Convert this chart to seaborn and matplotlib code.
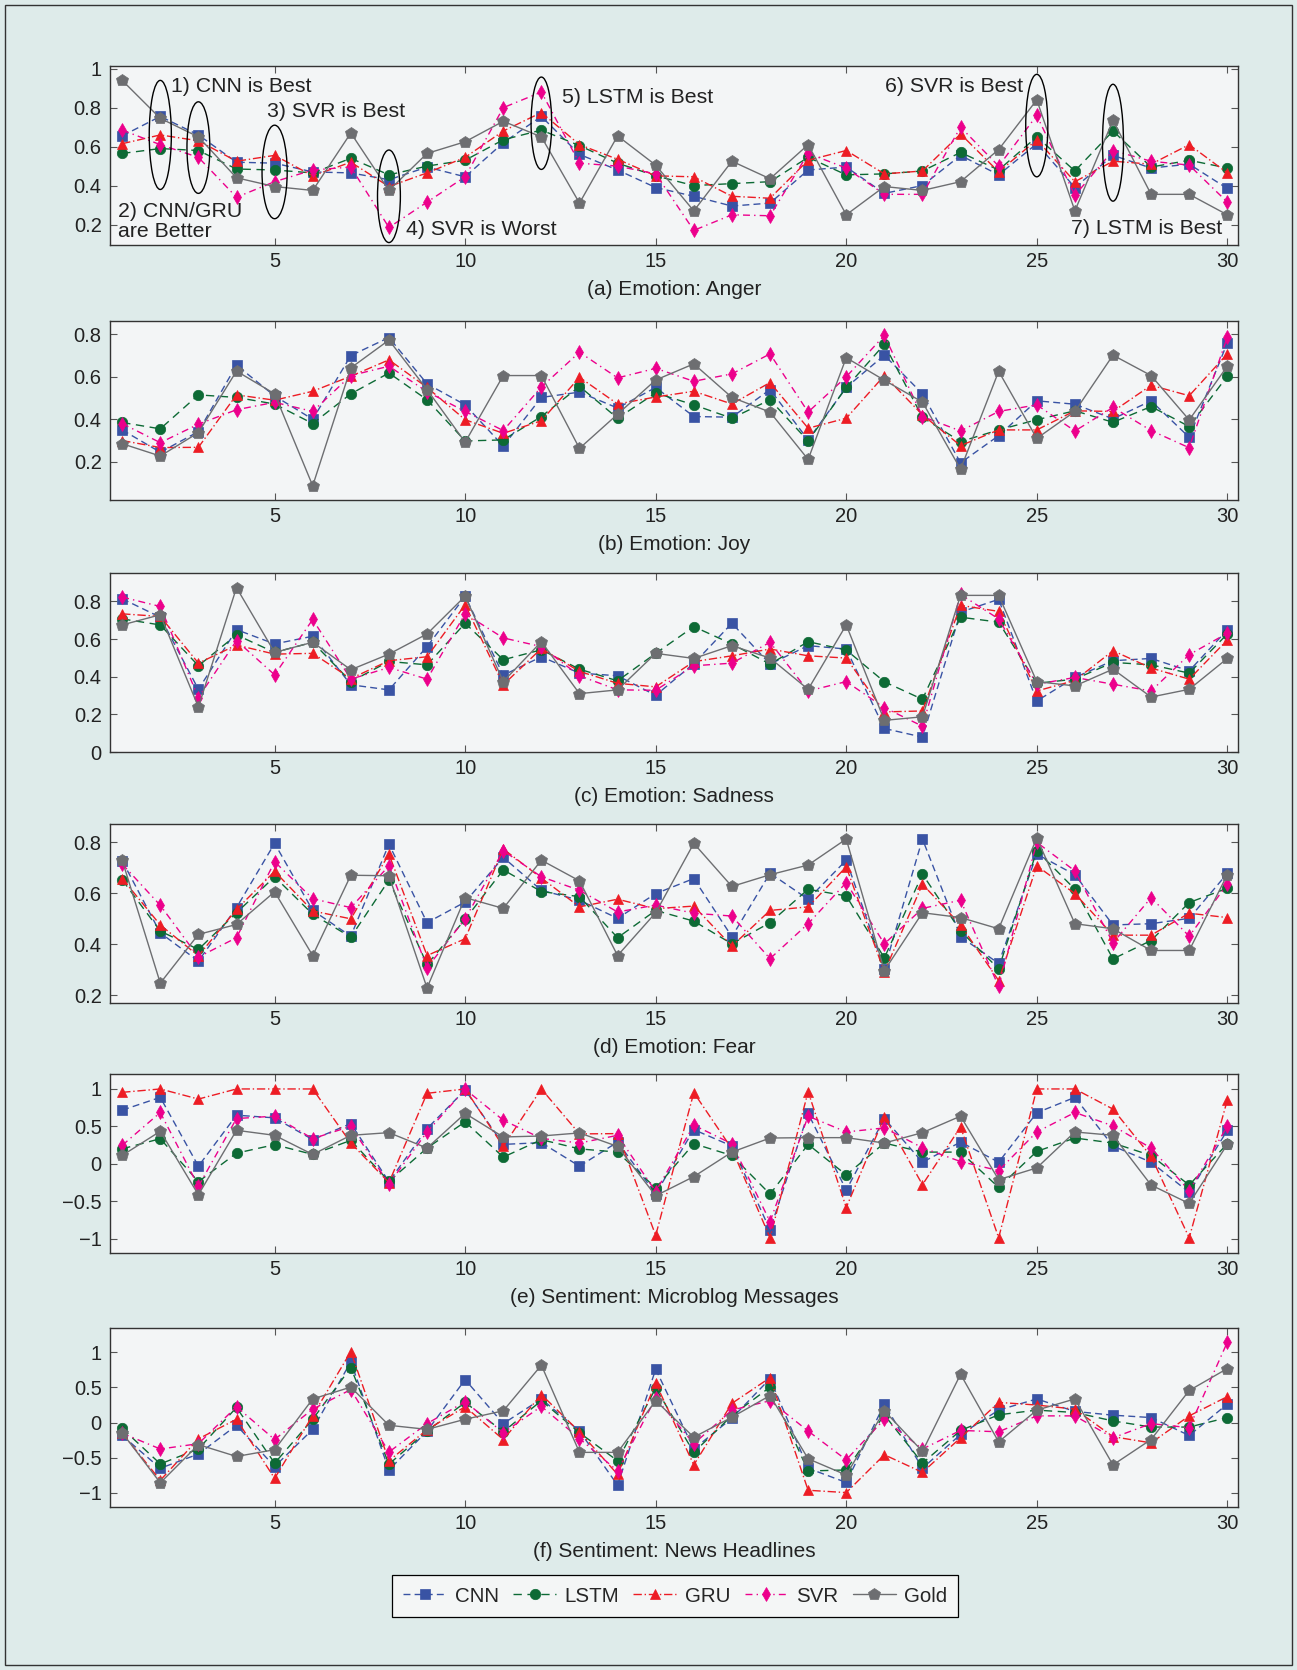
import numpy as np
import pandas as pd
import matplotlib
matplotlib.use('Agg')
import matplotlib.pyplot as plt
from matplotlib.patches import Ellipse, Rectangle
from matplotlib.ticker import FuncFormatter
import seaborn as sns

# x positions of the samples
idx = list(range(1, 31))

# (a) Emotion: Anger
a_cnn = [0.655,0.755,0.66,0.52,0.515,0.47,0.465,0.43,0.495,0.445,0.62,0.755,0.56,0.48,0.39,0.345,0.295,0.31,0.48,0.495,0.36,0.40,0.555,0.455,0.615,0.39,0.555,0.49,0.51,0.385]
a_lstm = [0.565,0.59,0.58,0.485,0.48,0.465,0.54,0.455,0.5,0.53,0.635,0.685,0.605,0.515,0.45,0.40,0.41,0.42,0.545,0.455,0.46,0.475,0.57,0.48,0.65,0.475,0.68,0.495,0.53,0.49]
a_gru = [0.615,0.66,0.63,0.525,0.555,0.45,0.52,0.395,0.465,0.545,0.68,0.775,0.61,0.535,0.45,0.445,0.345,0.335,0.53,0.58,0.46,0.475,0.665,0.47,0.635,0.42,0.525,0.51,0.61,0.465]
a_svr = [0.685,0.61,0.545,0.34,0.42,0.48,0.495,0.185,0.315,0.445,0.80,0.88,0.515,0.50,0.46,0.17,0.25,0.245,0.565,0.49,0.355,0.355,0.70,0.50,0.76,0.35,0.58,0.525,0.505,0.315]
a_gold = [0.94,0.745,0.65,0.44,0.395,0.375,0.67,0.375,0.565,0.625,0.73,0.65,0.31,0.655,0.505,0.27,0.525,0.435,0.61,0.25,0.395,0.375,0.42,0.585,0.84,0.27,0.735,0.355,0.355,0.25]

# (b) Emotion: Joy
b_cnn = [0.35,0.245,0.342,0.655,0.51,0.40,0.70,0.785,0.567,0.468,0.274,0.503,0.528,0.453,0.55,0.413,0.41,0.54,0.303,0.55,0.702,0.52,0.195,0.323,0.487,0.471,0.402,0.487,0.315,0.76]
b_lstm = [0.385,0.355,0.515,0.503,0.472,0.38,0.52,0.618,0.492,0.298,0.303,0.413,0.555,0.405,0.524,0.468,0.405,0.492,0.298,0.55,0.753,0.409,0.295,0.35,0.398,0.44,0.386,0.46,0.366,0.603]
b_gru = [0.30,0.267,0.268,0.515,0.49,0.532,0.603,0.68,0.55,0.398,0.334,0.393,0.598,0.472,0.505,0.532,0.472,0.573,0.358,0.405,0.606,0.421,0.276,0.35,0.35,0.44,0.437,0.56,0.511,0.708]
b_svr = [0.38,0.29,0.377,0.445,0.48,0.437,0.606,0.65,0.53,0.437,0.347,0.552,0.716,0.595,0.64,0.579,0.614,0.708,0.434,0.60,0.795,0.413,0.345,0.437,0.468,0.345,0.456,0.347,0.266,0.787]
b_gold = [0.285,0.227,0.337,0.627,0.52,0.087,0.642,0.773,0.54,0.292,0.606,0.606,0.263,0.424,0.585,0.661,0.503,0.434,0.211,0.69,0.584,0.481,0.165,0.626,0.31,0.437,0.702,0.606,0.397,0.65]

# (c) Emotion: Sadness
c_cnn = [0.814,0.716,0.333,0.65,0.574,0.615,0.357,0.33,0.56,0.827,0.408,0.506,0.419,0.405,0.301,0.47,0.684,0.467,0.565,0.547,0.125,0.079,0.743,0.811,0.271,0.396,0.485,0.497,0.431,0.649]
c_lstm = [0.707,0.675,0.458,0.622,0.529,0.583,0.374,0.481,0.463,0.684,0.49,0.543,0.44,0.378,0.524,0.666,0.574,0.467,0.586,0.542,0.373,0.28,0.716,0.69,0.365,0.387,0.476,0.463,0.419,0.627]
c_gru = [0.734,0.72,0.472,0.568,0.52,0.524,0.39,0.485,0.506,0.782,0.357,0.55,0.428,0.365,0.346,0.48,0.511,0.547,0.511,0.499,0.213,0.218,0.779,0.747,0.324,0.38,0.538,0.446,0.387,0.595]
c_svr = [0.823,0.773,0.289,0.592,0.41,0.704,0.387,0.449,0.387,0.734,0.606,0.56,0.405,0.33,0.328,0.458,0.472,0.583,0.324,0.374,0.236,0.137,0.837,0.707,0.36,0.396,0.36,0.324,0.517,0.631]
c_gold = [0.675,0.729,0.239,0.873,0.529,0.583,0.437,0.52,0.627,0.828,0.374,0.586,0.31,0.33,0.524,0.497,0.565,0.499,0.333,0.675,0.168,0.187,0.832,0.832,0.374,0.351,0.44,0.292,0.333,0.497]

# (d) Emotion: Fear
d_cnn = [0.728,0.445,0.334,0.544,0.796,0.533,0.432,0.793,0.485,0.566,0.741,0.612,0.573,0.502,0.599,0.658,0.43,0.679,0.577,0.73,0.304,0.813,0.43,0.325,0.754,0.673,0.476,0.481,0.502,0.678]
d_lstm = [0.653,0.452,0.38,0.524,0.665,0.518,0.428,0.652,0.321,0.498,0.692,0.607,0.587,0.426,0.533,0.491,0.402,0.485,0.616,0.59,0.347,0.675,0.452,0.304,0.767,0.616,0.343,0.415,0.564,0.62]
d_gru = [0.658,0.476,0.355,0.537,0.686,0.531,0.5,0.754,0.356,0.422,0.774,0.66,0.547,0.577,0.54,0.55,0.393,0.533,0.547,0.704,0.292,0.636,0.476,0.258,0.708,0.599,0.436,0.436,0.522,0.505]
d_svr = [0.715,0.553,0.35,0.426,0.724,0.579,0.544,0.708,0.308,0.5,0.767,0.665,0.612,0.527,0.554,0.522,0.511,0.344,0.481,0.642,0.402,0.541,0.573,0.235,0.80,0.688,0.406,0.583,0.432,0.636]
d_gold = [0.73,0.248,0.439,0.478,0.606,0.356,0.671,0.669,0.229,0.583,0.541,0.73,0.649,0.356,0.524,0.796,0.627,0.673,0.711,0.813,0.297,0.524,0.505,0.461,0.817,0.481,0.461,0.376,0.376,0.673]

# (e) Sentiment: Microblog Messages
e_cnn = [0.717,0.888,-0.031,0.65,0.614,0.323,0.538,-0.238,0.471,0.987,0.26,0.283,-0.031,0.291,-0.4,0.457,0.238,-0.883,0.673,-0.35,0.605,0.022,0.291,0.022,0.682,0.888,0.238,0.022,-0.381,0.448]
e_lstm = [0.2,0.336,-0.238,0.143,0.256,0.126,0.314,-0.233,0.211,0.561,0.09,0.323,0.2,0.157,-0.323,0.269,0.112,-0.404,0.26,-0.148,0.278,0.157,0.157,-0.314,0.166,0.345,0.278,0.112,-0.283,0.269]
e_gru = [0.955,1.0,0.865,1.0,1.0,1.0,0.278,-0.25,0.942,1.0,0.233,1.0,0.4,0.404,-0.955,0.951,0.2,-0.987,0.964,-0.583,0.628,-0.278,0.493,-0.987,1.0,1.0,0.731,0.099,-0.987,0.852]
e_svr = [0.247,0.686,-0.3,0.605,0.637,0.336,0.502,-0.269,0.426,0.996,0.583,0.34,0.278,0.381,-0.37,0.516,0.269,-0.771,0.637,0.426,0.48,0.215,0.031,-0.09,0.426,0.686,0.507,0.211,-0.359,0.502]
e_gold = [0.112,0.435,-0.413,0.448,0.381,0.126,0.381,0.417,0.211,0.673,0.359,0.372,0.413,0.233,-0.426,-0.17,0.157,0.345,0.35,0.35,0.278,0.417,0.637,-0.211,-0.054,0.426,0.381,-0.283,-0.529,0.26]

# (f) Sentiment: News Headlines
f_cnn = [-0.183,-0.649,-0.447,-0.038,-0.625,-0.096,0.865,-0.673,-0.12,0.611,-0.014,0.337,-0.12,-0.889,0.76,-0.375,0.063,0.625,-0.649,-0.851,0.264,-0.649,-0.168,0.178,0.337,0.159,0.106,0.072,-0.183,0.264]
f_lstm = [-0.082,-0.587,-0.375,0.216,-0.577,0.048,0.784,-0.591,-0.12,0.288,-0.13,0.312,-0.144,-0.543,0.49,-0.423,0.1,0.505,-0.688,-0.673,0.111,-0.577,-0.111,0.111,0.178,0.144,0.024,-0.063,-0.063,0.072]
f_gru = [-0.15,-0.82,-0.231,0.048,-0.793,0.1,1.01,-0.543,-0.1,0.226,-0.24,0.399,-0.13,-0.736,0.562,-0.601,0.274,0.639,-0.962,-0.995,-0.457,-0.707,-0.216,0.288,0.25,0.192,-0.2,-0.288,0.096,0.37]
f_svr = [-0.15,-0.375,-0.3,0.226,-0.24,0.192,0.47,-0.418,-0.014,0.298,-0.144,0.231,-0.226,-0.688,0.35,-0.3,0.178,0.312,-0.12,-0.529,0.048,-0.375,-0.111,-0.13,0.096,0.096,-0.216,-0.014,-0.072,1.144]
f_gold = [-0.144,-0.856,-0.313,-0.481,-0.385,0.337,0.505,-0.038,-0.096,0.048,0.168,0.817,-0.423,-0.423,0.312,-0.207,0.077,0.385,-0.514,-0.745,0.168,-0.409,0.688,-0.274,0.178,0.337,-0.601,-0.24,0.457,0.769]

models = ['CNN', 'LSTM', 'GRU', 'SVR', 'Gold']
captions = ['(a) Emotion: Anger', '(b) Emotion: Joy', '(c) Emotion: Sadness',
            '(d) Emotion: Fear', '(e) Sentiment: Microblog Messages',
            '(f) Sentiment: News Headlines']
panels = [
    [a_cnn, a_lstm, a_gru, a_svr, a_gold],
    [b_cnn, b_lstm, b_gru, b_svr, b_gold],
    [c_cnn, c_lstm, c_gru, c_svr, c_gold],
    [d_cnn, d_lstm, d_gru, d_svr, d_gold],
    [e_cnn, e_lstm, e_gru, e_svr, e_gold],
    [f_cnn, f_lstm, f_gru, f_svr, f_gold],
]
yticks_list = [
    [0.2, 0.4, 0.6, 0.8, 1.0],
    [0.2, 0.4, 0.6, 0.8],
    [0.0, 0.2, 0.4, 0.6, 0.8],
    [0.2, 0.4, 0.6, 0.8],
    [-1, -0.5, 0, 0.5, 1],
    [-1, -0.5, 0, 0.5, 1],
]
ylims = [(0.095, 1.014), (0.02, 0.863), (0.0, 0.951), (0.17, 0.872), (-1.19, 1.2), (-1.2, 1.346)]

# styles
colors = {'CNN': '#3953a4', 'LSTM': '#0d6a35', 'GRU': '#ed1c24', 'SVR': '#ec008c', 'Gold': '#6d6e71'}
markers = {'CNN': 's', 'LSTM': 'o', 'GRU': '^', 'SVR': 'd', 'Gold': 'p'}
msizes = {'CNN': 7, 'LSTM': 7.5, 'GRU': 7.5, 'SVR': 7.5, 'Gold': 9}
lstyles = {'CNN': (0, (5, 3)), 'LSTM': (0, (6, 4)), 'GRU': (0, (6, 2, 1, 2)),
           'SVR': (0, (5, 3, 1, 3)), 'Gold': '-'}

sns.set_style('ticks')
plt.rcParams['font.family'] = ['Liberation Sans', 'DejaVu Sans']

outer_bg = '#deebea'
ax_bg = '#f3f5f6'

fig = plt.figure(figsize=(12.97, 16.7), dpi=100, facecolor=outer_bg)
fig.patches.append(Rectangle((0.004, 0.003), 0.992, 0.994, transform=fig.transFigure,
                             fill=False, edgecolor='#333333', lw=1.0))

bottoms = [0.8533, 0.7006, 0.5497, 0.3994, 0.2497, 0.0976]
fmt = FuncFormatter(lambda v, p: ('%g' % v).replace('-', '\u2212'))

axes = []
for k, series in enumerate(panels):
    ax = fig.add_axes([0.0848, bottoms[k], 0.8697, 0.1072])
    ax.set_facecolor(ax_bg)
    for m, vals in zip(models, series):
        df = pd.DataFrame({'x': idx, 'y': vals})
        sns.lineplot(data=df, x='x', y='y', ax=ax, color=colors[m], marker=markers[m],
                     markersize=msizes[m], markeredgecolor=colors[m], markeredgewidth=0.5,
                     linestyle=lstyles[m], linewidth=1.0, label=m, legend=False)
    ax.set_xlim(0.68, 30.28)
    ax.set_ylim(*ylims[k])
    ax.set_xticks([5, 10, 15, 20, 25, 30])
    ax.set_yticks(yticks_list[k])
    ax.yaxis.set_major_formatter(fmt)
    ax.tick_params(direction='in', top=True, right=True, length=5, width=0.8,
                   labelsize=14.5, color='#555555', labelcolor='#222222')
    ax.tick_params(axis='x', pad=5)
    ax.tick_params(axis='y', pad=6)
    ax.set_xlabel('')
    ax.set_ylabel('')
    for s in ax.spines.values():
        s.set_color('#333333')
        s.set_linewidth(1.0)
    ax.text(0.5, -0.246, captions[k], transform=ax.transAxes, ha='center', va='center',
            fontsize=15, color='#222222')
    axes.append(ax)

# annotations on panel (a)
ax = axes[0]
ellipses = [(2, 0.66, 0.58, 0.56), (3, 0.595, 0.6, 0.47), (5, 0.47, 0.66, 0.48),
            (8, 0.345, 0.6, 0.475), (12, 0.72, 0.54, 0.474), (25, 0.708, 0.58, 0.526),
            (27, 0.62, 0.55, 0.6)]
for cx, cy, w, h in ellipses:
    ax.add_patch(Ellipse((cx, cy), w, h, fill=False, edgecolor='black', lw=1.0, zorder=5))

notes = [(2.28, 0.91, '1) CNN is Best'), (4.79, 0.78, '3) SVR is Best'),
         (0.9, 0.215, '2) CNN/GRU\nare Better'), (8.44, 0.172, '4) SVR is Worst'),
         (12.54, 0.853, '5) LSTM is Best'), (21.01, 0.91, '6) SVR is Best'),
         (25.89, 0.18, '7) LSTM is Best')]
for tx, ty, t in notes:
    ax.text(tx, ty, t, ha='left', va='center', fontsize=15.3, color='#222222',
            linespacing=1.1, zorder=6)

handles = axes[-1].get_lines()[:5]
leg = fig.legend(handles, models, loc='center', bbox_to_anchor=(0.5205, 0.0443), ncol=5,
                 fontsize=14.8, frameon=True, fancybox=False, edgecolor='black',
                 facecolor='#f4f6f6', framealpha=1, handlelength=2.1, columnspacing=0.7,
                 handletextpad=0.4, borderpad=0.55, borderaxespad=0)
leg.get_frame().set_linewidth(0.9)

fig.savefig('out.png', dpi=100, facecolor=outer_bg)
